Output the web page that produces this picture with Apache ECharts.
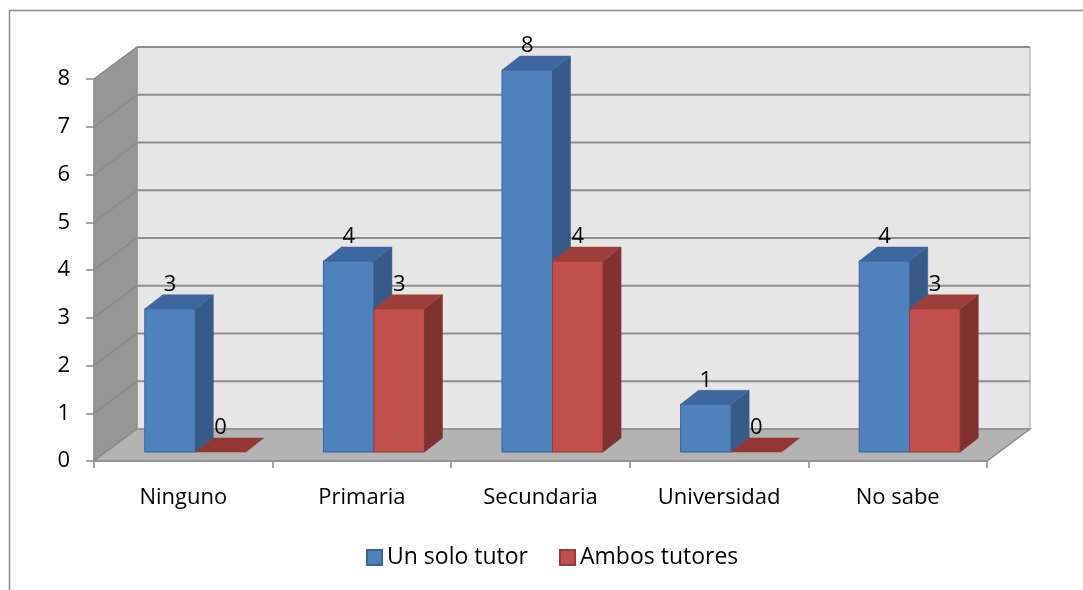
<!DOCTYPE html>
<html><head><meta charset="utf-8">
<script src="https://cdn.jsdelivr.net/npm/echarts@6/dist/echarts.min.js"></script>
<style>html,body{margin:0;padding:0;background:#fff}#c{width:1083px;height:590px}</style>
</head><body><div id="c"></div>
<script>
const categories = ['Ninguno', 'Primaria', 'Secundaria', 'Universidad', 'No sabe'];
const unSoloTutor = [3, 4, 8, 1, 4];
const ambosTutores = [0, 3, 4, 0, 3];
const seriesNames = ['Un solo tutor', 'Ambos tutores'];
const yTickValues = [0, 1, 2, 3, 4, 5, 6, 7, 8];

const FONT = 'Open Sans';
const DEPTH = [43, -32];      // wall depth vector
const FRONT_F = 0.28;         // bar front plane fraction
const BAR_D = [18, -14];      // bar depth
const BAR_FRAC = 0.283;       // bar width fraction of category band

const palettes = [
  {front: '#4F81BD', side: '#375B88', top: '#3E66A0', border: '#3A6597'},
  {front: '#C0504D', side: '#7F3230', top: '#9E3E3B', border: '#9C3C3A', flat: '#943634'}
];

function wallsRender(params, api) {
  const cs = params.coordSys;
  const L = cs.x, T = cs.y, R = cs.x + cs.width, B = cs.y + cs.height;
  const dx = DEPTH[0], dy = DEPTH[1];
  const ch = [];
  ch.push({type: 'polygon', shape: {points: [[L+dx, T+dy], [R+dx, T+dy], [R+dx, B+dy], [L+dx, B+dy]]},
    style: {fill: '#E6E6E6', stroke: '#A0A0A0', lineWidth: 1}});
  ch.push({type: 'polygon', shape: {points: [[L, B], [L, T], [L+dx, T+dy], [L+dx, B+dy]]},
    style: {fill: '#969696', stroke: '#8A8A8A', lineWidth: 1}});
  ch.push({type: 'polygon', shape: {points: [[L, B], [R, B], [R+dx, B+dy], [L+dx, B+dy]]},
    style: {fill: '#B3B3B3', stroke: '#8C8C8C', lineWidth: 1.5}});
  yTickValues.forEach(function (v) {
    if (v === 0) return;
    const y = api.coord([0, v])[1];
    ch.push({type: 'line', shape: {x1: L+dx, y1: y+dy, x2: R+dx, y2: y+dy},
      style: {stroke: '#8E8E8E', lineWidth: 2}});
    ch.push({type: 'line', shape: {x1: L, y1: y, x2: L+dx, y2: y+dy},
      style: {stroke: '#8A8A8A', lineWidth: 1.5}});
  });
  return {type: 'group', children: ch};
}

function makeBarRender(sIdx) {
  const pal = palettes[sIdx];
  return function (params, api) {
    const idx = api.value(0), v = api.value(1);
    const base = api.coord([idx, 0]);
    const topP = api.coord([idx, v]);
    const band = api.size([1, 0])[0];
    const w = band * BAR_FRAC;
    const ox = DEPTH[0] * FRONT_F, oy = DEPTH[1] * FRONT_F;
    const x0 = base[0] + (sIdx === 0 ? -w : 0) + ox;
    const x1 = x0 + w;
    const yb = base[1] + oy;
    const yt = topP[1] + oy;
    const dx = BAR_D[0], dy = BAR_D[1];
    const ch = [];
    if (v > 0) {
      ch.push({type: 'polygon', shape: {points: [[x0, yt], [x1, yt], [x1, yb], [x0, yb]]},
        style: {fill: pal.front, stroke: pal.border, lineWidth: 1}});
      ch.push({type: 'polygon', shape: {points: [[x1, yt], [x1+dx, yt+dy], [x1+dx, yb+dy], [x1, yb]]},
        style: {fill: pal.side, stroke: pal.side, lineWidth: 0.5}});
      ch.push({type: 'polygon', shape: {points: [[x0, yt], [x0+dx, yt+dy], [x1+dx, yt+dy], [x1, yt]]},
        style: {fill: pal.top, stroke: pal.top, lineWidth: 0.5}});
    } else {
      ch.push({type: 'polygon', shape: {points: [[x0, yb], [x0+dx, yb+dy], [x1+dx, yb+dy], [x1, yb]]},
        style: {fill: pal.flat || pal.top, stroke: pal.flat || pal.top, lineWidth: 0.5}});
    }
    ch.push({type: 'text', style: {text: String(v), x: (x0 + x1) / 2, y: yt - 24,
      align: 'center', verticalAlign: 'middle', fill: '#000', font: '22px "' + FONT + '"'}});
    return {type: 'group', children: ch};
  };
}

const chart = echarts.init(document.getElementById('c'), null, {renderer: 'canvas'});
const option = {
  animation: false,
  backgroundColor: '#fff',
  textStyle: {fontFamily: FONT},
  graphic: [{type: 'rect', shape: {x: 9.5, y: 10.5, width: 1100, height: 620},
    style: {fill: 'none', stroke: '#8A8A8A', lineWidth: 1.5}, z: 100}],
  grid: {left: 94, right: 96, top: 79, bottom: 129},
  legend: {
    data: seriesNames, left: 366, top: 546, padding: 0, icon: 'rect', itemWidth: 15, itemHeight: 15,
    itemGap: 31, textStyle: {fontSize: 23, color: '#000', fontFamily: FONT}
  },
  xAxis: {
    type: 'category', data: categories, boundaryGap: true,
    axisLine: {show: true, lineStyle: {color: '#8C8C8C', width: 1.5}},
    axisTick: {show: true, length: 7, lineStyle: {color: '#8C8C8C', width: 1.5}},
    axisLabel: {fontSize: 22, color: '#000', margin: 26, fontFamily: FONT},
    splitLine: {show: false}
  },
  yAxis: {
    type: 'value', min: 0, max: 8, interval: 1,
    axisLine: {show: true, lineStyle: {color: '#8C8C8C', width: 1.5}},
    axisTick: {show: true, length: 8, lineStyle: {color: '#8C8C8C', width: 1.5}},
    axisLabel: {fontSize: 22, color: '#000', margin: 24, fontFamily: FONT},
    splitLine: {show: false}
  },
  series: [
    {type: 'custom', name: '_walls', renderItem: wallsRender, data: [[0, 0]], z: 1, silent: true, clip: false},
    {type: 'custom', name: seriesNames[0], renderItem: makeBarRender(0), z: 5, clip: false,
      itemStyle: {color: palettes[0].front, borderColor: palettes[0].border, borderWidth: 1},
      data: unSoloTutor.map(function (v, i) { return [i, v]; }), encode: {x: 0, y: 1}},
    {type: 'custom', name: seriesNames[1], renderItem: makeBarRender(1), z: 6, clip: false,
      itemStyle: {color: palettes[1].front, borderColor: palettes[1].border, borderWidth: 1},
      data: ambosTutores.map(function (v, i) { return [i, v]; }), encode: {x: 0, y: 1}}
  ]
};
chart.setOption(option);
</script></body></html>
